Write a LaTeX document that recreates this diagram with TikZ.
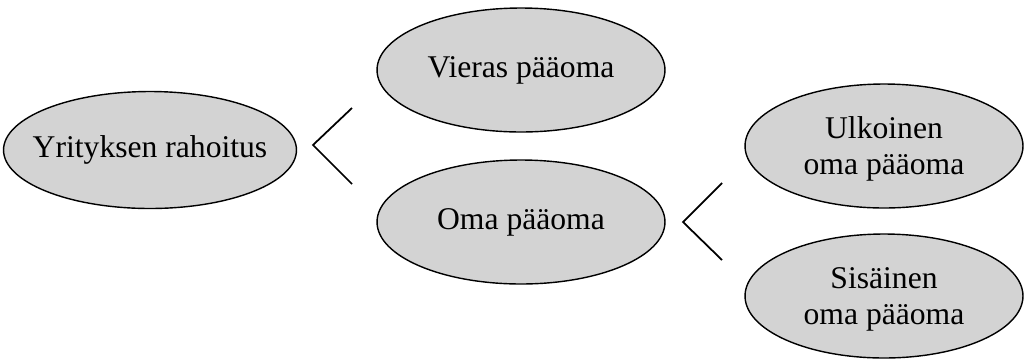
\documentclass[tikz,border=0pt]{standalone}
\usepackage{fontspec}
\setmainfont{Liberation Serif}
\usepackage{tikz}
\usetikzlibrary{shapes.geometric}

\definecolor{partfill}{HTML}{D3D3D3}

\begin{document}
\begin{tikzpicture}[x=0.02cm, y=-0.02cm,
        part/.style={draw, ellipse, fill=partfill, line width=0.8pt, inner sep=-30pt,
            align=center, font=\fontsize{18}{16.5}\selectfont},
        wide/.style={minimum width=5.86cm, minimum height=2.34cm},
        slim/.style={minimum width=5.76cm, minimum height=2.48cm},
        pair/.style={minimum width=5.56cm, minimum height=2.48cm, text height=36pt},
        fork/.style={line width=1pt}]
        \useasboundingbox (0, 0) rectangle (1027, 363);
        \node [part, wide] (rahoitus) at (150, 150) {Yrityksen rahoitus};
        \node [part, slim] (vieras) at (521, 70) {Vieras pääoma};
        \node [part, slim] (oma) at (521, 222) {Oma pääoma};
        \node [part, pair] (ulkoinen) at (884, 146) {Ulkoinen\\[4pt]oma pääoma};
        \node [part, pair] (sisainen) at (884, 296) {Sisäinen\\[4pt]oma pääoma};
        \coordinate (r tip) at (313, 145);
        \coordinate (r up) at (352, 108);
        \coordinate (r down) at (352, 184);
        \coordinate (o tip) at (683, 222);
        \coordinate (o up) at (722, 183);
        \coordinate (o down) at (722, 260);
        \draw [fork] (r up) -- (r tip) -- (r down);
        \draw [fork] (o up) -- (o tip) -- (o down);
    \end{tikzpicture}
\end{document}
